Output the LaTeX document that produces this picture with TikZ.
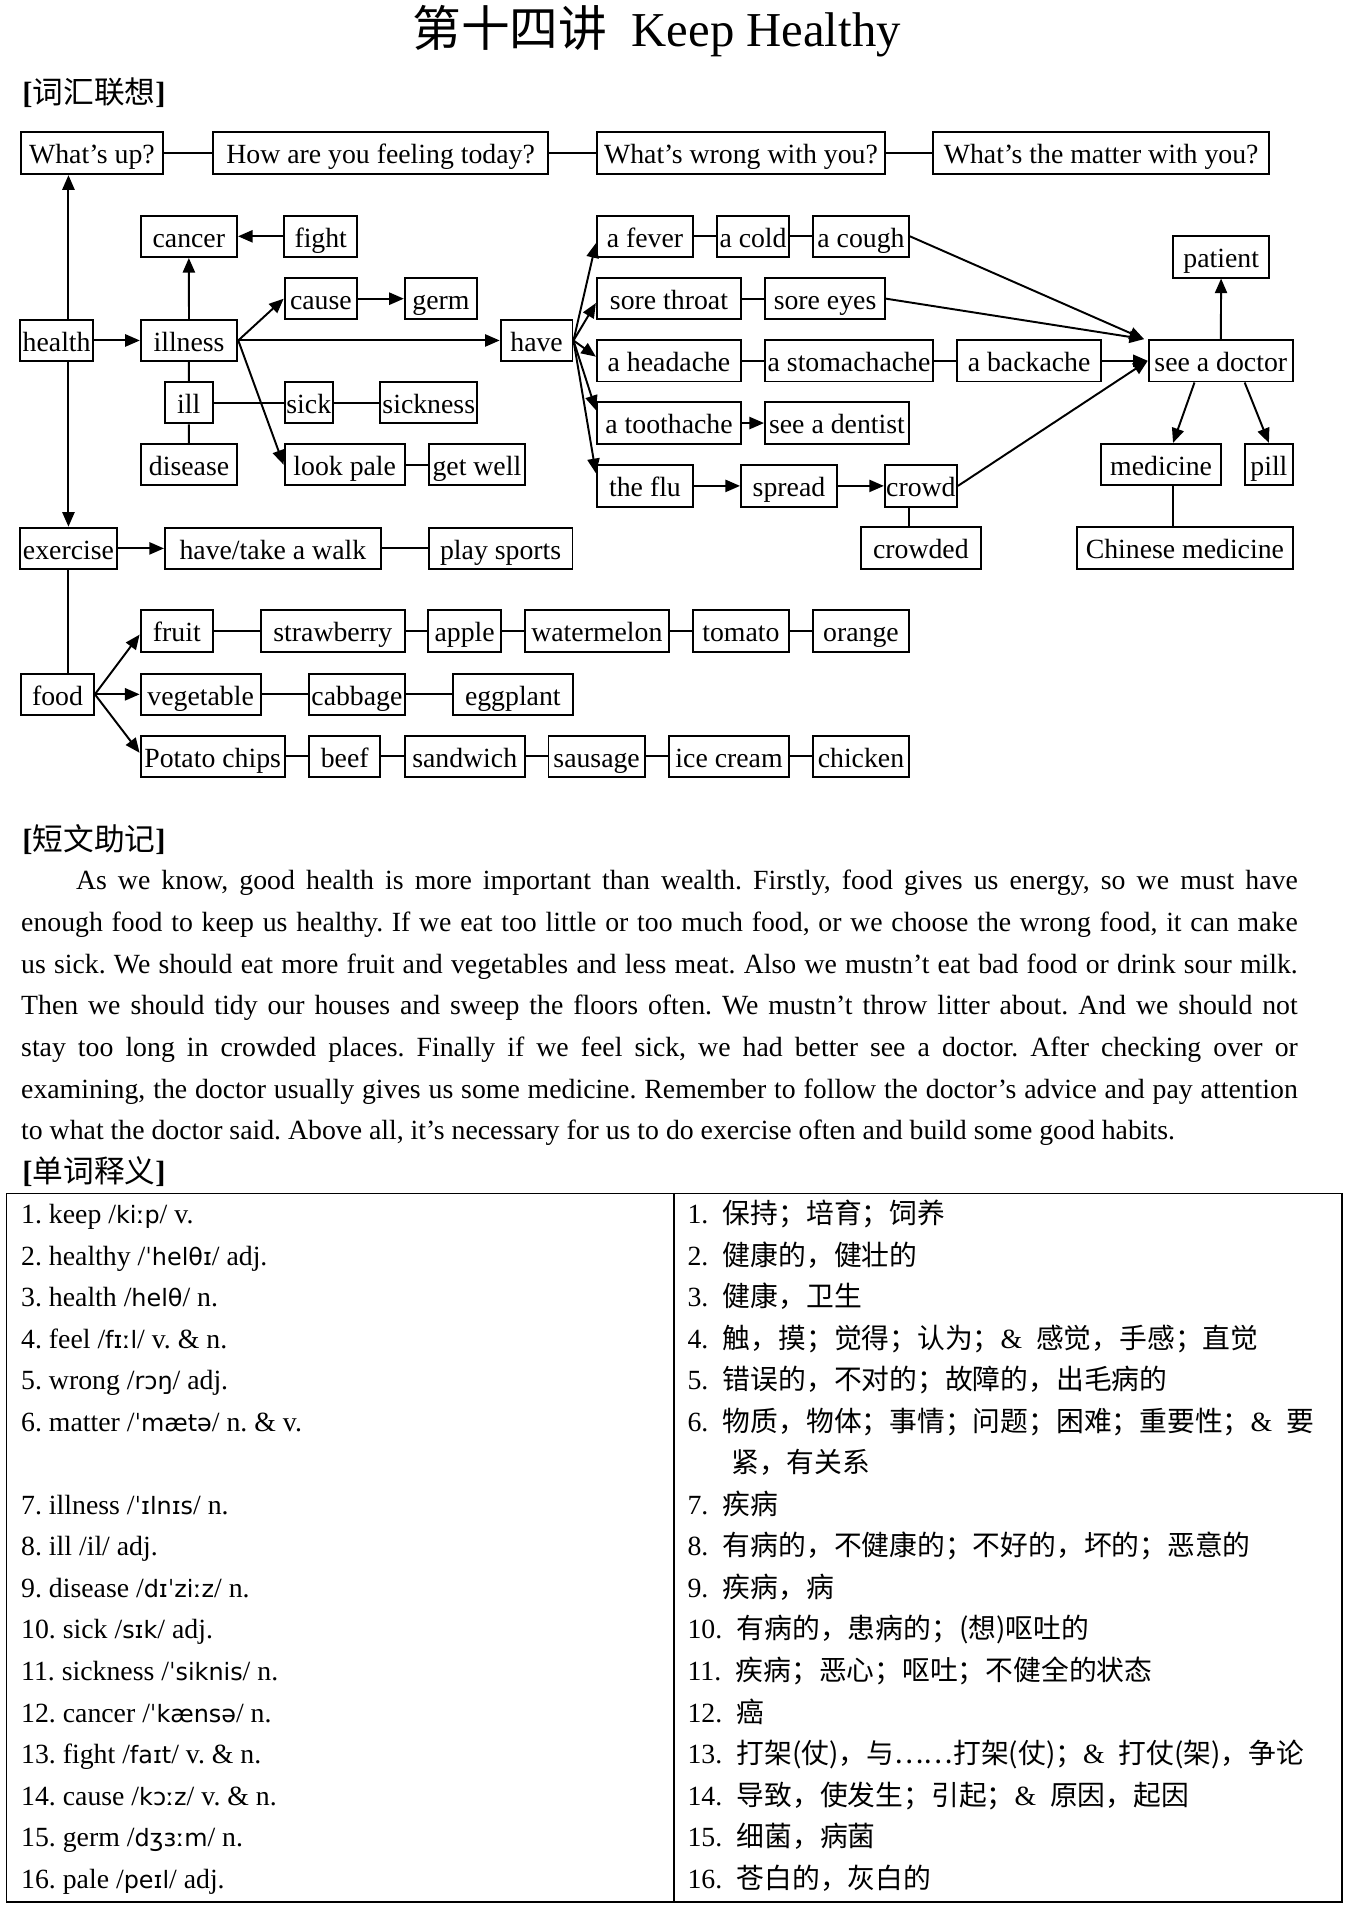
\documentclass[tikz,border=0pt]{standalone}
\usepackage{fontspec}
\setmainfont{Liberation Serif}
\newfontfamily\zhfont{Noto Sans CJK SC}
\newfontfamily\ipafont{DejaVu Sans}[Scale=0.86]
\newcommand{\zh}[1]{{\zhfont #1}}
\newcommand{\ipa}[1]{{\ipafont #1}}
\newcommand{\num}[1]{#1.\hspace{6pt}}
\usetikzlibrary{arrows.meta}
\tikzset{
  word/.style={
    draw,
    line width=0.8pt,
    inner sep=0pt,
    minimum height=17pt,
    text height=10.8pt,
    text depth=2pt
  },
  joint/.style={
    line width=0.8pt
  },
  line/.style={
    -{Triangle[length=6pt,width=5pt]},
    line width=0.8pt
  },
  textline/.style={
    anchor=base west,
    inner sep=0pt
  },
  heading/.style={
    textline,
    font=\fontsize{12.6}{15}\selectfont
  }
}

\begin{document}
\frenchspacing
\begin{tikzpicture}[x=0.5pt, y=-0.5pt, font=\fontsize{11.4}{17.1}\selectfont]
  \useasboundingbox (0,0) rectangle (1109,1568);

  \node[anchor=base, inner sep=0pt, font=\fontsize{20}{24}\selectfont] (title) at (539,38)
    {\zh{第十四讲}\hspace{10pt}Keep Healthy};
  \node[heading] (h1) at (18,85) {\textbf{[}\zh{词汇联想}\textbf{]}};

  % greetings
  \node[word, minimum height=17.5pt, minimum width=58.5pt] (whatsup) at (75.5,125.5) {What’s up?};
  \node[word, minimum height=17.5pt, minimum width=137.5pt] (howfeel) at (312.5,125.5) {How are you feeling today?};
  \node[word, minimum height=17.5pt, minimum width=118.3pt] (wrong) at (608.3,125.5) {What’s wrong with you?};
  \node[word, minimum height=17.5pt, minimum width=138pt] (matter) at (904,125.5) {What’s the matter with you?};

  % health and illness
  \node[word, minimum width=39.6pt] (cancer) at (155,194) {cancer};
  \node[word, minimum width=29.9pt] (fight) at (263.3,194) {fight};
  \node[word, minimum width=29.7pt] (cause) at (263.4,245.2) {cause};
  \node[word, minimum width=29.7pt] (germ) at (362,245.2) {germ};
  \node[word, minimum width=29.9pt] (health) at (46.5,279.5) {health};
  \node[word, minimum width=39.6pt] (illness) at (155.2,279.5) {illness};
  \node[word, minimum width=29.5pt] (have) at (440.5,279.5) {have};
  \node[word, minimum width=19.7pt] (ill) at (155,330.5) {ill};
  \node[word, minimum width=19.9pt] (sick) at (253.5,330.5) {sick};
  \node[word, minimum width=39.7pt] (sickness) at (352,330.5) {sickness};
  \node[word, minimum width=39.6pt] (disease) at (155.2,381.5) {disease};
  \node[word, minimum width=49.4pt] (pale) at (283,381.5) {look pale};
  \node[word, minimum width=39.5pt] (getwell) at (391.5,381.5) {get well};
  \node[word, minimum width=39.6pt] (exercise) at (56.2,450.2) {exercise};
  \node[word, minimum width=88.6pt] (walk) at (224,450.2) {have/take a walk};
  \node[word, minimum width=59pt] (sports) at (411,450.2) {play sports};

  % symptoms and doctor
  \node[word, minimum width=39.5pt] (fever) at (529.5,194) {a fever};
  \node[word, minimum width=29.6pt] (cold) at (618.2,194) {a cold};
  \node[word, minimum width=39.4pt] (cough) at (706.8,194) {a cough};
  \node[word, minimum width=59.2pt] (throat) at (549.2,245.2) {sore throat};
  \node[word, minimum width=49.3pt] (eyes) at (677.3,245.2) {sore eyes};
  \node[word, minimum width=59.2pt] (headache) at (549.2,296.2) {a headache};
  \node[word, minimum width=69pt] (stomach) at (697,296.2) {a stomachache};
  \node[word, minimum width=59.2pt] (backache) at (844.8,296.2) {a backache};
  \node[word, minimum width=59.2pt] (doctor) at (1002.2,296.2) {see a doctor};
  \node[word, minimum width=39.5pt] (patient) at (1002.5,210.9) {patient};
  \node[word, minimum width=59.2pt] (toothache) at (549.2,347.3) {a toothache};
  \node[word, minimum width=59.1pt] (dentist) at (687.1,347.3) {see a dentist};
  \node[word, minimum width=39.5pt] (flu) at (529.5,398.9) {the flu};
  \node[word, minimum width=39.4pt] (spread) at (647.7,398.9) {spread};
  \node[word, minimum width=29.6pt] (crowd) at (756,398.9) {crowd};
  \node[word, minimum width=49.3pt] (crowded) at (756,450) {crowded};
  \node[word, minimum width=49.2pt] (medicine) at (953.2,381.4) {medicine};
  \node[word, minimum width=19.7pt] (pill) at (1041.7,381.4) {pill};
  \node[word, minimum width=88.7pt] (chinese) at (972.7,450) {Chinese medicine};

  % food
  \node[word, minimum width=29.9pt] (food) at (47.2,570) {food};
  \node[word, minimum width=29.8pt] (fruit) at (145.2,518) {fruit};
  \node[word, minimum width=59.2pt] (strawberry) at (273.2,518) {strawberry};
  \node[word, minimum width=29.8pt] (apple) at (381.5,518) {apple};
  \node[word, minimum width=59.2pt] (watermelon) at (490,518) {watermelon};
  \node[word, minimum width=39.5pt] (tomato) at (608.2,518) {tomato};
  \node[word, minimum width=39.5pt] (orange) at (706.8,518) {orange};
  \node[word, minimum width=49.3pt] (vegetable) at (164.7,570) {vegetable};
  \node[word, minimum width=39.3pt] (cabbage) at (293,570) {cabbage};
  \node[word, minimum width=49.3pt] (eggplant) at (421,570) {eggplant};
  \node[word, minimum width=59.2pt] (chips) at (174.6,621) {Potato chips};
  \node[word, minimum width=29.3pt] (beef) at (283,621) {beef};
  \node[word, minimum width=49.3pt] (sandwich) at (381.5,621) {sandwich};
  \node[word, minimum width=39.5pt] (sausage) at (489.8,621) {sausage};
  \node[word, minimum width=49.3pt] (icecream) at (598.5,621) {ice cream};
  \node[word, minimum width=39.5pt] (chicken) at (706.8,621) {chicken};

  \draw[joint] (whatsup) -- (howfeel) -- (wrong) -- (matter);
  \draw[joint] (fever) -- (cold) -- (cough);
  \draw[joint] (throat) -- (eyes);
  \draw[joint] (headache) -- (stomach) -- (backache);
  \draw[joint] (illness) -- (ill) -- (disease);
  \draw[joint] (ill) -- (sick) -- (sickness);
  \draw[joint] (pale) -- (getwell);
  \draw[joint] (walk) -- (sports);
  \draw[joint] ([xshift=-5pt]crowd.south) coordinate (cr) -- (cr |- crowded.north);
  \draw[joint] ([xshift=4.9pt]medicine.south) coordinate (md) -- (md |- chinese.north);
  \draw[joint] (exercise.south) -- (exercise.south |- food.north);
  \draw[joint] (fruit) -- (strawberry) -- (apple) -- (watermelon) -- (tomato) -- (orange);
  \draw[joint] (vegetable) -- (cabbage) -- (eggplant);
  \draw[joint] (chips) -- (beef) -- (sandwich) -- (sausage) -- (icecream) -- (chicken);

  \draw[line] (health.north -| exercise.north) -- (whatsup.south -| exercise.north);
  \draw[line] (health.south -| exercise.north) -- (exercise.north);
  \draw[line] (health) -- (illness);
  \draw[line] (illness) -- (have);
  \draw[line] (illness) -- (cancer);
  \draw[line] (fight) -- (cancer);
  \draw[line] (illness.east) -- (cause.west);
  \draw[line] (illness.east) -- (pale.west);
  \draw[line] (cause) -- (germ);
  \draw[line] (have.east) -- ([yshift=-2.8pt]fever.west);
  \draw[line] (have.east) -- ([yshift=-1.8pt]throat.west);
  \draw[line] (have.east) -- ([yshift=1.7pt]headache.west);
  \draw[line] (have.east) -- ([yshift=5.3pt]toothache.west);
  \draw[line] (have.east) -- ([yshift=5.2pt]flu.west);
  \draw[line] (toothache) -- (dentist);
  \draw[line] (flu) -- (spread);
  \draw[line] (spread) -- (crowd);
  \draw[line] (cough.east) -- ([xshift=-1.5pt]doctor.north west);
  \draw[line] (eyes.east) -- ([xshift=-1.5pt]doctor.north west);
  \draw[line] (backache) -- (doctor);
  \draw[line] (crowd.east) -- (doctor.west);
  \draw[line] (doctor) -- (patient);
  \draw[line] ([xshift=-10.8pt]doctor.south) -- ([xshift=4.9pt]medicine.north);
  \draw[line] ([xshift=9.8pt]doctor.south) -- (pill.north);
  \draw[line] (exercise) -- (walk);
  \draw[line] (food.east) -- ([yshift=-1.5pt]fruit.west);
  \draw[line] (food) -- (vegetable);
  \draw[line] (food.east) -- ([yshift=1.5pt]chips.west);

  % short passage
  \node[heading] (h2) at (18,698) {\textbf{[}\zh{短文助记}\textbf{]}};
  \node[textline] (p1) at (62,730.5) {\makebox[501.5pt][s]{As we know, good health is more important than wealth. Firstly, food gives us energy, so we must have}};
  \node[textline] (p2) at (17,764.7) {\makebox[524pt][s]{enough food to keep us healthy. If we eat too little or too much food, or we choose the wrong food, it can make}};
  \node[textline] (p3) at (17,798.9) {\makebox[524pt][s]{us sick. We should eat more fruit and vegetables and less meat. Also we mustn’t eat bad food or drink sour milk.}};
  \node[textline] (p4) at (17,833.1) {\makebox[524pt][s]{Then we should tidy our houses and sweep the floors often. We mustn’t throw litter about. And we should not}};
  \node[textline] (p5) at (17,867.3) {\makebox[524pt][s]{stay too long in crowded places. Finally if we feel sick, we had better see a doctor. After checking over or}};
  \node[textline] (p6) at (17,901.5) {\makebox[524pt][s]{examining, the doctor usually gives us some medicine. Remember to follow the doctor’s advice and pay attention}};
  \node[textline] (p7) at (17,935.7) {to what the doctor said. Above all, it’s necessary for us to do exercise often and build some good habits.};

  % word list
  \node[heading] (h3) at (18,971) {\textbf{[}\zh{单词释义}\textbf{]}};
  \draw[line width=0.6pt] (5.5,980) rectangle (1101.6,1561.5);
  \draw[line width=0.6pt] (553.3,980) -- (553.3,1561.5);
  \foreach \entry [count=\k] in {
    {1. keep /\ipa{kiːp}/ v.},
    {2. healthy /\ipa{ˈhelθɪ}/ adj.},
    {3. health /\ipa{helθ}/ n.},
    {4. feel /\ipa{fɪːl}/ v. \& n.},
    {5. wrong /\ipa{rɔŋ}/ adj.},
    {6. matter /\ipa{ˈmætə}/ n. \& v.},
    {},
    {7. illness /\ipa{ˈɪlnɪs}/ n.},
    {8. ill /il/ adj.},
    {9. disease /\ipa{dɪˈziːz}/ n.},
    {10. sick /\ipa{sɪk}/ adj.},
    {11. sickness /\ipa{ˈsiknis}/ n.},
    {12. cancer /\ipa{ˈkænsə}/ n.},
    {13. fight /\ipa{faɪt}/ v. \& n.},
    {14. cause /\ipa{kɔːz}/ v. \& n.},
    {15. germ /\ipa{dʒɜːm}/ n.},
    {16. pale /\ipa{peɪl}/ adj.}}
    \node[textline] (en\k) at (17,{1004.5+(\k-1)*34.1}) {\entry};
  \foreach \entry [count=\k] in {
    {\num{1}\zh{保持；培育；饲养}},
    {\num{2}\zh{健康的，健壮的}},
    {\num{3}\zh{健康，卫生}},
    {\num{4}\zh{触，摸；觉得；认为；}\&\enspace\zh{感觉，手感；直觉}},
    {\num{5}\zh{错误的，不对的；故障的，出毛病的}},
    {\num{6}\zh{物质，物体；事情；问题；困难；重要性；}\&\enspace\zh{要}},
    {\hspace*{18pt}\zh{紧，有关系}},
    {\num{7}\zh{疾病}},
    {\num{8}\zh{有病的，不健康的；不好的，坏的；恶意的}},
    {\num{9}\zh{疾病，病}},
    {\num{10}\zh{有病的，患病的；(想)呕吐的}},
    {\num{11}\zh{疾病；恶心；呕吐；不健全的状态}},
    {\num{12}\zh{癌}},
    {\num{13}\zh{打架(仗)，与……打架(仗)；}\&\enspace\zh{打仗(架)，争论}},
    {\num{14}\zh{导致，使发生；引起；}\&\enspace\zh{原因，起因}},
    {\num{15}\zh{细菌，病菌}},
    {\num{16}\zh{苍白的，灰白的}}}
    \node[textline] (zh\k) at (564,{1004.5+(\k-1)*34.1}) {\entry};
\end{tikzpicture}
\end{document}
